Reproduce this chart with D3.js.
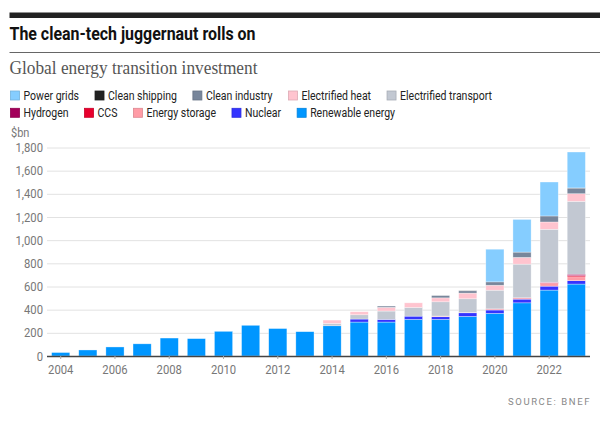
<!DOCTYPE html>
<meta charset="utf-8">
<script src="https://d3js.org/d3.v7.min.js"></script>
<style>
  body { margin: 0; background: #fff; }
  text { font-family: Roboto, "DejaVu Sans", sans-serif; }
</style>
<div id="chart"></div>
<script>

// years on the x axis
var years = d3.range(2004, 2024);

// series values, $bn (bottom of stack first)
var renewable   = [30, 52, 78, 105, 155, 150, 213, 265, 237, 210, 261, 293, 293, 316, 316, 342, 368, 459, 569, 621];
var nuclear     = [0, 0, 0, 0, 0, 0, 0, 0, 0, 0, 0, 26, 23, 28, 23, 31, 29, 32, 34, 29];
var storage     = [0, 0, 0, 0, 0, 0, 0, 0, 0, 0, 0, 0, 0, 0, 6, 3, 6, 6, 23, 34];
var ccs         = [0, 0, 0, 0, 0, 0, 0, 0, 0, 0, 0, 0, 0, 0, 0, 0, 4, 5, 6, 11];
var hydrogen    = [0, 0, 0, 0, 0, 0, 0, 0, 0, 0, 0, 0, 0, 0, 0, 0, 0, 1, 5, 11];
var transport   = [0, 0, 0, 0, 0, 0, 0, 0, 0, 0, 20, 37, 72, 75, 123, 118, 161, 290, 457, 629];
var heat        = [0, 0, 0, 0, 0, 0, 0, 0, 0, 0, 29, 26, 32, 40, 34, 49, 43, 58, 63, 66];
var industry    = [0, 0, 0, 0, 0, 0, 0, 0, 0, 0, 0, 0, 11, 0, 20, 20, 29, 46, 52, 49];
var shipping    = [0, 0, 0, 0, 0, 0, 0, 0, 0, 0, 0, 0, 0, 0, 0, 2, 0, 0, 0, 1];
var grids       = [0, 0, 0, 0, 0, 0, 0, 0, 0, 0, 0, 0, 0, 0, 0, 0, 282, 282, 293, 310];

var yTicks = [0, 200, 400, 600, 800, 1000, 1200, 1400, 1600, 1800];
var xTicks = [2004, 2006, 2008, 2010, 2012, 2014, 2016, 2018, 2020, 2022];

// series: name, values, colour (stack order, bottom first)
var series = [
  {key: "Renewable energy",      values: renewable, color: "#0096ff"},
  {key: "Nuclear",               values: nuclear,   color: "#3434ff"},
  {key: "Energy storage",        values: storage,   color: "#ff9ca6"},
  {key: "CCS",                   values: ccs,       color: "#e8002d"},
  {key: "Hydrogen",              values: hydrogen,  color: "#a3005a"},
  {key: "Electrified transport", values: transport, color: "#c2c8d2"},
  {key: "Electrified heat",      values: heat,      color: "#ffc4cf"},
  {key: "Clean industry",        values: industry,  color: "#78869b"},
  {key: "Clean shipping",        values: shipping,  color: "#222222"},
  {key: "Power grids",           values: grids,     color: "#85cdff"}
];

// legend rows, as laid out in the picture
var legendRows = [
  ["Power grids", "Clean shipping", "Clean industry", "Electrified heat", "Electrified transport"],
  ["Hydrogen", "CCS", "Energy storage", "Nuclear", "Renewable energy"]
];

var width = 600, height = 422;

var svg = d3.select("#chart")
  .append("svg")
    .attr("width", width)
    .attr("height", height);

var colorOf = {};
series.forEach(function(s) { colorOf[s.key] = s.color; });

// squeeze text to look like a condensed face
function condense(sel, k) {
  sel.each(function() {
    var w = this.getComputedTextLength();
    d3.select(this)
      .attr("textLength", w * k)
      .attr("lengthAdjust", "spacingAndGlyphs");
  });
}

// header rules and titles
svg.append("rect")
  .attr("x", 9.5).attr("y", 12.5)
  .attr("width", width - 9.5).attr("height", 5.5)
  .attr("fill", "#222");

svg.append("text")
  .attr("x", 9.5).attr("y", 39.5)
  .attr("font-size", 18)
  .attr("font-weight", 700)
  .attr("fill", "#111")
  .attr("textLength", 246)
  .attr("lengthAdjust", "spacingAndGlyphs")
  .text("The clean-tech juggernaut rolls on");

svg.append("line")
  .attr("x1", 9.5).attr("x2", width)
  .attr("y1", 52.5).attr("y2", 52.5)
  .attr("stroke", "#666").attr("stroke-width", 1);

svg.append("text")
  .attr("x", 9.5).attr("y", 73.5)
  .attr("font-size", 18.5)
  .style("font-family", "'Liberation Serif', 'DejaVu Serif', serif")
  .attr("fill", "#555")
  .attr("textLength", 248)
  .attr("lengthAdjust", "spacingAndGlyphs")
  .text("Global energy transition investment");

// legend
legendRows.forEach(function(row, r) {
  var x = 10;
  var y = 90.5 + r * 17.3;
  row.forEach(function(name) {
    var g = svg.append("g").attr("transform", "translate(" + x + "," + y + ")");
    var c = d3.color(colorOf[name]);
    g.append("rect")
      .attr("x", 0.5).attr("y", 0.5)
      .attr("width", 9).attr("height", 9)
      .attr("fill", colorOf[name])
      .attr("stroke", c.darker(0.4))
      .attr("stroke-width", 0.8);
    var t = g.append("text")
      .attr("x", 13.5).attr("y", 9.3)
      .attr("font-size", 12.5)
      .attr("fill", "#222")
      .text(name);
    condense(t, 0.84);
    x += 13.5 + (+t.attr("textLength")) + 15.5;
  });
});

// scales
var x = d3.scaleBand()
  .domain(years)
  .range([47, 590])
  .paddingInner(0.33)
  .paddingOuter(0.17);

var y = d3.scaleLinear()
  .domain([0, 1800])
  .range([356, 147.5]);

// unit label
svg.append("text")
  .attr("x", 11).attr("y", 137)
  .attr("font-size", 12.5)
  .attr("fill", "#777")
  .text("$bn")
  .call(condense, 0.88);

// gridlines + y labels
var yAxis = svg.append("g")
  .attr("transform", "translate(47,0)")
  .call(d3.axisLeft(y).tickValues(yTicks).tickSize(-(590 - 47)).tickFormat(d3.format(",")));
yAxis.select(".domain").remove();
yAxis.selectAll(".tick line").attr("stroke", "#e2e2e2").attr("stroke-width", 1);
yAxis.selectAll(".tick text")
  .attr("x", -4)
  .attr("font-size", 12.5)
  .attr("fill", "#777")
  .style("font-family", "Roboto, sans-serif")
  .each(function() { condense(d3.select(this), 0.9); });

// stacked bars
var table = years.map(function(yr, i) {
  var row = {year: yr};
  series.forEach(function(s) { row[s.key] = s.values[i]; });
  return row;
});

var stacked = d3.stack().keys(series.map(function(s) { return s.key; }))(table);

svg.append("g")
  .selectAll("g")
  .data(stacked)
  .enter()
  .append("g")
    .attr("fill", function(d) { return colorOf[d.key]; })
  .selectAll("rect")
  .data(function(d) { return d.filter(function(p) { return p[1] - p[0] > 0; }); })
  .enter()
  .append("rect")
    .attr("x", function(d) { return x(d.data.year); })
    .attr("width", x.bandwidth())
    .attr("y", function(d) { return y(d[1]); })
    .attr("height", function(d) { return y(d[0]) - y(d[1]); })
    .attr("stroke", "rgba(255,255,255,0.55)")
    .attr("stroke-width", 0.6);

// x axis
var xAxis = svg.append("g")
  .attr("transform", "translate(0,356)")
  .call(d3.axisBottom(x).tickValues(xTicks).tickSize(3).tickPadding(6));
xAxis.select(".domain")
  .attr("d", "M47,0.5H590")
  .attr("stroke", "#444")
  .attr("stroke-width", 1.6);
xAxis.selectAll(".tick line").attr("stroke", "#aaa");
xAxis.selectAll(".tick text")
  .attr("font-size", 12.5)
  .attr("fill", "#777")
  .style("font-family", "Roboto, sans-serif")
  .each(function() { condense(d3.select(this), 0.9); });

// source
svg.append("text")
  .attr("x", 591).attr("y", 404.5)
  .attr("text-anchor", "end")
  .attr("font-size", 9.5)
  .attr("letter-spacing", 1.6)
  .attr("fill", "#888")
  .text("SOURCE: BNEF");

</script>
